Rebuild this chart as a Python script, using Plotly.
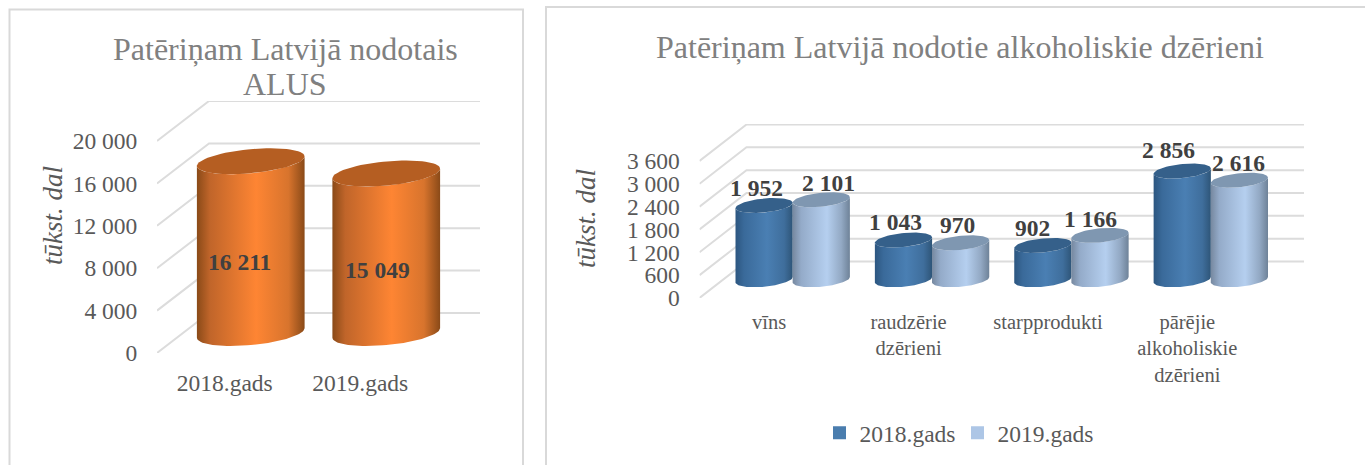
import numpy as np
import plotly.graph_objects as go

# ---------- data ----------
beer_categories = ["2018.gads", "2019.gads"]
beer_values = [16211, 15049]
beer_ticks = [0, 4000, 8000, 12000, 16000, 20000]
beer_ticktext = ["0", "4 000", "8 000", "12 000", "16 000", "20 000"]

drink_categories = ["vīns", "raudzērie<br>dzērieni", "starpprodukti", "pārējie<br>alkoholiskie<br>dzērieni"]
drink_2018 = [1952, 1043, 902, 2856]
drink_2019 = [2101, 970, 1166, 2616]
drink_ticks = [0, 600, 1200, 1800, 2400, 3000, 3600]
drink_ticktext = ["0", "600", "1 200", "1 800", "2 400", "3 000", "3 600"]
series_names = ["2018.gads", "2019.gads"]

def label(v):
    return f"{v:,}".replace(",", " ")

# ---------- styling ----------
W, H = 1365, 465
FONT = "Liberation Serif"
GRID = "#dcdcdc"
TICK = "#595959"
ORANGE = dict(side=[[0, "#8a4a18"], [0.12, "#c0652a"], [0.55, "#fe8533"], [0.85, "#d8742d"], [1, "#8a4a18"]], top="#b55e22")
DARK = dict(side=[[0, "#2c5680"], [0.15, "#3a6a9a"], [0.55, "#4a7fb3"], [0.85, "#3f6e9c"], [1, "#2e5578"]], top="#35608a")
LIGHT = dict(side=[[0, "#76889f"], [0.15, "#94abc9"], [0.6, "#b5cfef"], [0.85, "#93a9c4"], [1, "#6e8298"]], top="#7f97b1")

fig = go.Figure()
T = np.linspace(0, 2 * np.pi, 73)

CAT_STAND = {1: 9, 2: 5}
CAT_SIZE = {1: 23.5, 2: 20.5}


def make_panel(idx, px_x, px_y, n_cat, ticks, ticktext, cats, depth_px, y_front_top_val, y_front_top_px):
    """px_x=(front-left, back-right), px_y=(top-back, front-zero); returns unit converters"""
    x0, x1 = px_x
    y_top, y_zero = px_y
    cat_w = (x1 - x0 - depth_px[0]) / n_cat
    k = (y_zero - y_front_top_px) / y_front_top_val
    name = "" if idx == 1 else str(idx)
    fig.update_layout({
        f"xaxis{name}": dict(domain=[x0 / W, x1 / W], range=[0, n_cat + depth_px[0] / cat_w],
                             tickvals=[i + 0.5 for i in range(n_cat)], ticktext=cats,
                             showgrid=False, zeroline=False, showline=False,
                             ticks="outside", ticklen=CAT_STAND[idx], tickcolor="rgba(0,0,0,0)",
                             tickfont=dict(family=FONT, size=CAT_SIZE[idx], color=TICK),
                             anchor=f"y{name}", fixedrange=True),
        f"yaxis{name}": dict(domain=[1 - y_zero / H, 1 - y_top / H], range=[0, (y_zero - y_top) / k],
                             tickvals=ticks, ticktext=ticktext,
                             showgrid=False, zeroline=False, showline=False,
                             ticks="outside", ticklen=14, tickcolor="rgba(0,0,0,0)",
                             tickfont=dict(family=FONT, size=23.5, color=TICK),
                             anchor=f"x{name}", fixedrange=True),
    })
    dx, dy = depth_px[0] / cat_w, depth_px[1] / k
    for v in ticks:
        fig.add_trace(go.Scatter(x=[0, dx, n_cat + dx], y=[v, v + dy, v + dy], mode="lines",
                                 line=dict(color=GRID, width=2), xaxis=f"x{name}", yaxis=f"y{name}",
                                 showlegend=False, hoverinfo="skip"))
    return cat_w, k, dx, dy, name


def cylinder(cx, value, panel, a_px, vec_px, palette, trace_name):
    cat_w, k, dx, dy, name = panel
    ax = a_px / cat_w
    ex, ey = vec_px[0] / cat_w, vec_px[1] / k
    base_x, base_y = cx + dx / 2, dy / 2
    # silhouette extremes of the tilted ellipse
    t0 = np.arctan2(ex, ax)
    lower = np.linspace(t0, t0 - np.pi, 49)
    ell_x = ax * np.cos(lower) + ex * np.sin(lower)
    ell_y = ey * np.sin(lower)
    xs = list(base_x + ell_x) + list(base_x + ell_x[::-1])
    ys = list(base_y + ell_y) + list(base_y + value + ell_y[::-1])
    fig.add_trace(go.Scatter(x=xs, y=ys, mode="lines", fill="toself", line=dict(width=0),
                             fillcolor="rgba(0,0,0,0)",
                             fillgradient=dict(type="horizontal", colorscale=palette["side"]),
                             xaxis=f"x{name}", yaxis=f"y{name}", showlegend=False,
                             name=trace_name, hoverinfo="skip"))
    fig.add_trace(go.Scatter(x=base_x + ax * np.cos(T) + ex * np.sin(T),
                             y=base_y + value + ey * np.sin(T),
                             mode="lines", fill="toself", fillcolor=palette["top"],
                             line=dict(width=0), xaxis=f"x{name}", yaxis=f"y{name}",
                             showlegend=False, name=trace_name, hoverinfo="skip"))
    return base_x, base_y + value


# ---------- left panel ----------
p1 = make_panel(1, (157, 480), (101, 353), 2, beer_ticks, beer_ticktext, beer_categories,
                (52, 40), 20000, 141)
left_nudge = [(-11, -15), (-9, -17)]
for i, v in enumerate(beer_values):
    bx, ty = cylinder(i + 0.5, v, p1, 50, (20, 13), ORANGE, beer_categories[i])
    fig.add_annotation(x=bx, y=ty - v / 2, xref="x", yref="y", text=f"<b>{label(v)}</b>", showarrow=False,
                       xshift=left_nudge[i][0], yshift=left_nudge[i][1],
                       font=dict(family=FONT, size=23.5, color="#404040"))

# ---------- right panel ----------
p2 = make_panel(2, (699.5, 1304), (124, 298), 4, drink_ticks, drink_ticktext, drink_categories,
                (47, 36.5), 3600, 161)
OFF = 0.205
nudge_18 = [(-8, 17.5), (-8, 18), (-10, 17.5), (-14, 21)]
nudge_19 = [(7, 17), (-3, 18), (-9.5, 16.5), (-1, 17)]
for i in range(4):
    for vals, pal, off, nudge, sname in ((drink_2018, DARK, -OFF, nudge_18, series_names[0]),
                                         (drink_2019, LIGHT, OFF, nudge_19, series_names[1])):
        bx, ty = cylinder(i + 0.5 + off, vals[i], p2, 26.7, (10.3, 7.5), pal, sname)
        fig.add_annotation(x=bx, y=ty, xref="x2", yref="y2", text=f"<b>{label(vals[i])}</b>", showarrow=False,
                           xshift=nudge[i][0], yshift=nudge[i][1],
                           font=dict(family=FONT, size=23.5, color="#404040"))

# legend entries
for nm, col in zip(series_names, ("#4a7dae", "#adc6e6")):
    fig.add_trace(go.Scatter(x=[None], y=[None], mode="markers", name=nm, xaxis="x2", yaxis="y2",
                             marker=dict(symbol="square", size=13, color=col), showlegend=True))

# ---------- titles, axis captions ----------
for txt, x, y, size in (("Patēriņam Latvijā nodotais", 285, 49, 32),
                        ("ALUS", 285, 84, 32),
                        ("Patēriņam Latvijā nodotie alkoholiskie dzērieni", 960, 47, 32)):
    fig.add_annotation(x=x / W, y=1 - y / H, xref="paper", yref="paper", text=txt, showarrow=False,
                       xanchor="center", yanchor="middle",
                       font=dict(family=FONT, size=size, color="#808080"))
for x, y in ((53, 216), (586, 219)):
    fig.add_annotation(x=x / W, y=1 - y / H, xref="paper", yref="paper", text="<i>tūkst. dal</i>",
                       xanchor="center", yanchor="middle",
                       showarrow=False, textangle=-90, font=dict(family=FONT, size=27, color=TICK))

# chart frames
frame = dict(color="#d9d9d9", width=2)
fig.add_shape(type="rect", xref="paper", yref="paper", x0=9.5 / W, x1=523 / W, y0=-0.05, y1=1 - 9.5 / H, line=frame)
fig.add_shape(type="rect", xref="paper", yref="paper", x0=546 / W, x1=1.05, y0=-0.05, y1=1 - 7 / H, line=frame)

fig.update_layout(width=W, height=H, margin=dict(l=0, r=0, t=0, b=0, autoexpand=False), paper_bgcolor="white",
                  plot_bgcolor="rgba(0,0,0,0)", hovermode=False,
                  legend=dict(orientation="h", x=957.5 / W, xanchor="center", y=1 - 433 / H, yanchor="middle",
                              font=dict(family=FONT, size=23.5, color=TICK), itemwidth=30,
                              entrywidth=93, entrywidthmode="pixels",
                              bgcolor="rgba(0,0,0,0)"))

fig.write_html("out.html", config={"displayModeBar": False},
               post_script="document.body.style.margin='0';document.body.style.overflow='hidden';")
